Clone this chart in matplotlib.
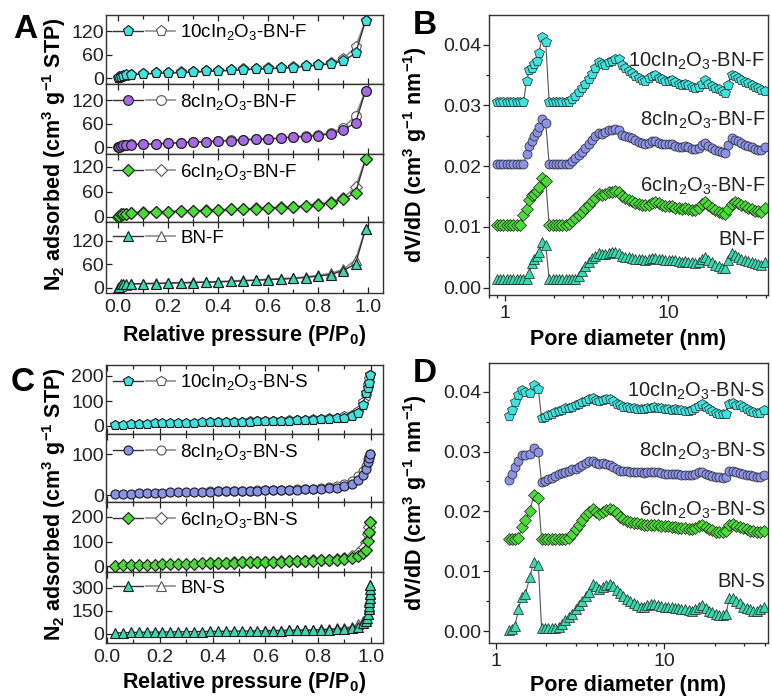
import matplotlib
matplotlib.use("Agg")
import matplotlib.pyplot as plt
from matplotlib.lines import Line2D
from matplotlib.legend_handler import HandlerTuple
from matplotlib.ticker import MultipleLocator, FixedLocator, NullFormatter, LogLocator, FormatStrFormatter

plt.rcParams['font.family'] = ['Liberation Sans', 'DejaVu Sans']
plt.rcParams['mathtext.fontset'] = 'custom'
plt.rcParams['mathtext.rm'] = 'Liberation Sans'
plt.rcParams['mathtext.it'] = 'Liberation Sans:italic'
plt.rcParams['mathtext.bf'] = 'Liberation Sans:bold'
plt.rcParams['mathtext.default'] = 'rm'

# ---------------- DATA: N2 isotherms, F series (panel A) ----------------
p_F_ads = [0.001, 0.005, 0.01, 0.02, 0.03, 0.05, 0.10, 0.15, 0.20, 0.25, 0.30, 0.35, 0.40,
           0.45, 0.50, 0.55, 0.60, 0.65, 0.70, 0.75, 0.80, 0.85, 0.90, 0.95, 0.99]
p_F_des = [0.99, 0.95, 0.90, 0.85, 0.80, 0.75, 0.70, 0.65, 0.60, 0.55, 0.50, 0.45, 0.40,
           0.35, 0.30, 0.25, 0.20, 0.15, 0.10, 0.05, 0.03, 0.01, 0.005]
iso_10c_F_ads = [0.5, 2, 4, 6, 7, 8.5, 10, 12, 13, 14, 15, 17, 18.5, 19.5, 21, 23, 24, 25, 27, 30, 33, 36, 44, 63, 146]
iso_10c_F_des = [146, 79, 49, 38, 34, 31, 28, 26, 25, 23.5, 22, 20.5, 19, 17.5, 16, 14.5, 13.5, 12.5, 11, 9, 6, 3, 1]
iso_8c_F_ads = [0.5, 2, 4.5, 5.5, 6.5, 7, 7.5, 8.5, 10, 11.5, 13, 14, 15.5, 17, 19, 20, 21, 23, 26, 27, 30, 34, 43, 63, 143]
iso_8c_F_des = [143, 80, 49, 37, 32, 29, 27, 24, 22, 21, 19.5, 18, 16, 14.5, 13.5, 11.5, 10.5, 9, 8, 7.5, 5, 3, 1]
iso_6c_F_ads = [0.5, 1.5, 6, 7, 8, 10, 10.5, 12, 12, 14, 14.6, 15.4, 16, 18, 19, 19.5, 21, 22, 23.5, 26, 29, 34, 42, 58, 138]
iso_6c_F_des = [138, 71, 46, 36, 31, 27, 24.5, 23, 22, 20.5, 19.5, 18.5, 17, 16, 15, 14.5, 12.5, 12.5, 11, 10.5, 7, 4, 1]
iso_BN_F_ads = [0.5, 2.5, 9, 9.5, 9.5, 10, 11, 11, 12, 13, 13.7, 14.5, 15.4, 16.5, 18, 19.5, 21, 22.5, 24, 26.5, 30, 34, 44, 61, 150]
iso_BN_F_des = [150, 71, 47, 37, 32, 28, 25, 23.5, 22, 20, 19, 17.5, 16, 15, 14, 13.5, 12.5, 11.5, 11, 10, 7, 4, 1]

# ---------------- DATA: N2 isotherms, S series (panel C) ----------------
p_S_ads = [0.03, 0.06, 0.09, 0.12, 0.15, 0.18, 0.21, 0.24, 0.27, 0.30, 0.33, 0.36, 0.39, 0.42,
           0.45, 0.48, 0.51, 0.54, 0.57, 0.60, 0.63, 0.66, 0.69, 0.72, 0.75, 0.78, 0.81, 0.84,
           0.87, 0.90, 0.93, 0.95, 0.97, 0.98, 0.99, 0.993, 0.996]
p_S_des = [0.996, 0.993, 0.99, 0.98, 0.97, 0.95, 0.93, 0.90, 0.87, 0.84, 0.81, 0.78, 0.75,
           0.72, 0.69, 0.66, 0.63, 0.60, 0.57, 0.54, 0.51, 0.48, 0.45, 0.42, 0.39]
iso_10c_S_ads = [4, 6, 7.5, 8.5, 9.5, 10.3, 11, 11.7, 12.4, 13, 13.6, 14.2, 14.8, 15.4, 16, 16.6, 17.2,
                 17.8, 18.5, 19.2, 20, 20.8, 21.7, 22.7, 23.8, 25, 26.5, 28.5, 31, 34, 39, 52, 84, 131,
                 152, 172, 204]
iso_10c_S_des = [204, 190, 165, 120, 95, 62, 46, 39, 34, 31, 28.5, 26.5, 25, 23.8, 22.8, 21.8, 20.8,
                 20, 19.2, 18.5, 17.8, 17.2, 16.5, 15.8, 15]
iso_8c_S_ads = [2.5, 3, 3.5, 4, 4.5, 5, 5.7, 6.2, 6.8, 7.3, 7.7, 8, 8.4, 8.8, 9.3, 9.8, 10, 10.4, 10.8,
                11.2, 11.6, 12, 12.5, 13, 13.7, 14.3, 15, 16.3, 18, 21, 27, 36, 50, 64, 80, 90, 100]
iso_8c_S_des = [100, 95, 88, 72, 58, 46, 35, 26, 21, 18.5, 16.5, 15.2, 14.3, 13.6, 13, 12.5, 12, 11.6,
                11.2, 10.8, 10.4, 10, 9.6, 9.2, 8.8]
iso_6c_S_ads = [1.4, 2.5, 3.3, 4.2, 5, 5.8, 7, 7.8, 8.6, 9.3, 10, 10.8, 11.6, 12.2, 13, 14, 15, 15.7,
                16.4, 17, 17.8, 18.5, 19.2, 20, 21, 22, 23, 23.5, 24.5, 27, 33, 40, 52, 64, 103, 139, 180]
iso_6c_S_des = [180, 160, 130, 100, 75, 55, 42, 33, 28, 26, 24.5, 23, 22, 21, 20, 19.3, 18.6, 18, 17.3,
                16.6, 16, 15.3, 14.6, 13.8, 13]
p_BN_S_ads = [0.03, 0.06, 0.09, 0.12, 0.15, 0.18, 0.21, 0.24, 0.27, 0.30, 0.33, 0.36, 0.39, 0.42,
              0.45, 0.48, 0.51, 0.54, 0.57, 0.60, 0.63, 0.66, 0.69, 0.72, 0.75, 0.78, 0.81, 0.84,
              0.87, 0.90, 0.93, 0.95, 0.97, 0.98, 0.985, 0.99, 0.992, 0.993, 0.994, 0.995, 0.996,
              0.997, 0.998]
iso_BN_S_ads = [6, 8, 9.5, 10.5, 11.3, 12, 12.7, 13.3, 14, 14.6, 15.2, 15.8, 16.3, 16.8, 17.4, 18, 18.6,
                19.2, 19.8, 20.5, 21.2, 22, 22.8, 23.6, 24.5, 25.6, 27, 29, 31.5, 35, 40, 48, 72, 85,
                105, 130, 160, 185, 210, 235, 260, 290, 318]
p_BN_S_des = [0.998, 0.996, 0.994, 0.992, 0.99, 0.98, 0.97, 0.95, 0.93, 0.90, 0.87, 0.84, 0.81, 0.78,
              0.75, 0.72, 0.69, 0.66, 0.63, 0.60]
iso_BN_S_des = [318, 270, 220, 170, 130, 95, 82, 62, 48, 41, 36, 32, 29.5, 27.5, 26, 24.5, 23.5, 22.5,
                21.8, 21]

# ---------------- DATA: pore size distributions ----------------
pore_micro_F = [0.90, 0.94, 0.98, 1.03, 1.08, 1.13, 1.18, 1.24, 1.30, 1.36, 1.41, 1.47, 1.52, 1.57,
                1.62, 1.69, 1.78]
pore_micro_S = [1.19, 1.24, 1.30, 1.36, 1.43, 1.50, 1.59, 1.68, 1.79]
pore_meso = [1.87, 1.96, 2.05, 2.15, 2.25, 2.36, 2.47, 2.59, 2.71, 2.84, 2.98,
             3.12, 3.27, 3.43, 3.59, 3.76, 3.94, 4.13, 4.33, 4.54, 4.76, 4.99,
             5.23, 5.48, 5.74, 6.02, 6.31, 6.61, 6.93, 7.26, 7.61, 7.98, 8.36,
             8.76, 9.18, 9.62, 10.1, 10.6, 11.1, 11.6, 12.2, 12.7, 13.3, 14.0,
             14.7, 15.4, 16.1, 16.9, 17.7, 18.5, 19.4, 20.4, 21.3, 22.4, 23.4,
             24.5, 25.7, 26.9, 28.2, 29.6, 31.0, 32.5, 34.1, 35.7, 37.4, 39.2]

psd_10c_F_micro = [0.0305, 0.0305, 0.0305, 0.0305, 0.0305, 0.0305, 0.0305, 0.0305, 0.0305,
                   0.0340, 0.0358, 0.0362, 0.0368, 0.0374, 0.0386, 0.0412, 0.0405]
psd_8c_F_micro = [0.0203, 0.0203, 0.0203, 0.0203, 0.0203, 0.0203, 0.0203, 0.0203, 0.0203,
                  0.0220, 0.0233, 0.0241, 0.0250, 0.0256, 0.0265, 0.0277, 0.0272]
psd_6c_F_micro = [0.0103, 0.0103, 0.0103, 0.0103, 0.0103, 0.0103, 0.0103, 0.0103,
                  0.0120, 0.0130, 0.0144, 0.0152, 0.0155, 0.0160, 0.0166, 0.0180, 0.0175]
psd_BN_F_micro = [0.0014, 0.0014, 0.0014, 0.0014, 0.0014, 0.0014, 0.0014, 0.0014, 0.0014, 0.0014,
                  0.0024, 0.0040, 0.0048, 0.0053, 0.0058, 0.0076, 0.0071]

psd_10c_F_meso = [0.0305, 0.0305, 0.0305, 0.0305, 0.0305, 0.0305, 0.0305, 0.0310, 0.0316, 0.0322, 0.0329,
                  0.0336, 0.0344, 0.0352, 0.0362, 0.0372, 0.0368, 0.0367, 0.0372, 0.0374, 0.0376, 0.0377,
                  0.0366, 0.0362, 0.0357, 0.0353, 0.0349, 0.0345, 0.0342, 0.0341, 0.0345, 0.0349, 0.0350,
                  0.0346, 0.0343, 0.0341, 0.0340, 0.0342, 0.0338, 0.0335, 0.0333, 0.0336, 0.0334, 0.0331,
                  0.0329, 0.0330, 0.0336, 0.0342, 0.0336, 0.0332, 0.0329, 0.0327, 0.0324, 0.0321, 0.0334,
                  0.0350, 0.0348, 0.0345, 0.0342, 0.0339, 0.0337, 0.0333, 0.0330, 0.0328, 0.0326, 0.0324]
psd_8c_F_meso = [0.0203, 0.0203, 0.0203, 0.0203, 0.0203, 0.0203, 0.0203, 0.0208, 0.0213, 0.0218, 0.0224,
                 0.0230, 0.0237, 0.0243, 0.0249, 0.0255, 0.0253, 0.0257, 0.0259, 0.0260, 0.0261, 0.0259,
                 0.0252, 0.0250, 0.0248, 0.0246, 0.0243, 0.0240, 0.0238, 0.0237, 0.0239, 0.0242, 0.0242,
                 0.0239, 0.0237, 0.0236, 0.0236, 0.0237, 0.0234, 0.0232, 0.0231, 0.0233, 0.0231, 0.0229,
                 0.0228, 0.0230, 0.0235, 0.0239, 0.0234, 0.0230, 0.0227, 0.0225, 0.0223, 0.0221, 0.0235,
                 0.0246, 0.0244, 0.0241, 0.0238, 0.0235, 0.0233, 0.0231, 0.0229, 0.0227, 0.0226, 0.0231]
psd_6c_F_meso = [0.0103, 0.0103, 0.0103, 0.0103, 0.0103, 0.0103, 0.0105, 0.0110, 0.0114, 0.0119, 0.0125,
                 0.0131, 0.0136, 0.0142, 0.0148, 0.0154, 0.0152, 0.0155, 0.0157, 0.0158, 0.0160, 0.0157,
                 0.0151, 0.0148, 0.0145, 0.0142, 0.0140, 0.0138, 0.0136, 0.0136, 0.0137, 0.0139, 0.0141,
                 0.0140, 0.0137, 0.0135, 0.0134, 0.0134, 0.0132, 0.0131, 0.0130, 0.0132, 0.0130, 0.0128,
                 0.0128, 0.0132, 0.0138, 0.0141, 0.0136, 0.0131, 0.0128, 0.0125, 0.0123, 0.0122, 0.0130,
                 0.0138, 0.0141, 0.0139, 0.0136, 0.0134, 0.0131, 0.0129, 0.0127, 0.0126, 0.0125, 0.0131]
psd_BN_F_meso = [0.0014, 0.0014, 0.0014, 0.0014, 0.0014, 0.0014, 0.0014, 0.0014, 0.0014, 0.0020, 0.0027,
                 0.0036, 0.0043, 0.0049, 0.0053, 0.0057, 0.0055, 0.0056, 0.0057, 0.0058, 0.0059, 0.0057,
                 0.0053, 0.0051, 0.0050, 0.0049, 0.0048, 0.0048, 0.0047, 0.0046, 0.0047, 0.0049, 0.0049,
                 0.0048, 0.0047, 0.0046, 0.0046, 0.0046, 0.0045, 0.0044, 0.0043, 0.0044, 0.0043, 0.0042,
                 0.0041, 0.0043, 0.0048, 0.0051, 0.0046, 0.0042, 0.0038, 0.0035, 0.0033, 0.0032, 0.0045,
                 0.0057, 0.0054, 0.0051, 0.0048, 0.0046, 0.0044, 0.0042, 0.0040, 0.0039, 0.0038, 0.0042]

psd_10c_S_micro = [0.0360, 0.0370, 0.0382, 0.0395, 0.0403, 0.0399, 0.0398, 0.0411, 0.0404]
psd_8c_S_micro = [0.0253, 0.0262, 0.0275, 0.0285, 0.0295, 0.0294, 0.0296, 0.0306, 0.0299]
psd_6c_S_micro = [0.0153, 0.0153, 0.0153, 0.0155, 0.0174, 0.0186, 0.0200, 0.0227, 0.0222]
psd_BN_S_micro = [0.0002, 0.0004, 0.0008, 0.0037, 0.0057, 0.0062, 0.0090, 0.0116, 0.0110]

psd_10c_S_meso = [0.0356, 0.0358, 0.0361, 0.0363, 0.0366, 0.0368, 0.0369, 0.0372, 0.0373, 0.0375, 0.0378,
                  0.0380, 0.0382, 0.0385, 0.0387, 0.0390, 0.0386, 0.0385, 0.0386, 0.0387, 0.0388, 0.0384,
                  0.0379, 0.0377, 0.0375, 0.0374, 0.0373, 0.0372, 0.0371, 0.0371, 0.0371, 0.0372, 0.0373,
                  0.0374, 0.0373, 0.0372, 0.0371, 0.0371, 0.0370, 0.0371, 0.0370, 0.0369, 0.0368, 0.0368,
                  0.0369, 0.0372, 0.0376, 0.0379, 0.0375, 0.0371, 0.0367, 0.0364, 0.0362, 0.0362, 0.0363,
                  0.0380, 0.0381, 0.0377, 0.0378, 0.0375, 0.0371, 0.0368, 0.0366, 0.0365, 0.0365, 0.0370]
psd_8c_S_meso = [0.0249, 0.0251, 0.0254, 0.0256, 0.0259, 0.0262, 0.0264, 0.0266, 0.0268, 0.0270, 0.0271,
                 0.0274, 0.0277, 0.0281, 0.0285, 0.0284, 0.0281, 0.0280, 0.0281, 0.0279, 0.0278, 0.0274,
                 0.0270, 0.0268, 0.0267, 0.0267, 0.0266, 0.0266, 0.0265, 0.0265, 0.0264, 0.0265, 0.0266,
                 0.0266, 0.0265, 0.0264, 0.0263, 0.0263, 0.0262, 0.0263, 0.0262, 0.0261, 0.0261, 0.0260,
                 0.0261, 0.0263, 0.0265, 0.0266, 0.0263, 0.0261, 0.0259, 0.0258, 0.0257, 0.0256, 0.0258,
                 0.0267, 0.0268, 0.0265, 0.0264, 0.0263, 0.0261, 0.0260, 0.0259, 0.0258, 0.0258, 0.0260]
psd_6c_S_meso = [0.0153, 0.0153, 0.0153, 0.0153, 0.0153, 0.0153, 0.0153, 0.0153, 0.0156, 0.0162, 0.0170,
                 0.0178, 0.0186, 0.0194, 0.0199, 0.0204, 0.0199, 0.0196, 0.0199, 0.0202, 0.0204, 0.0203,
                 0.0197, 0.0191, 0.0187, 0.0184, 0.0182, 0.0181, 0.0180, 0.0179, 0.0178, 0.0178, 0.0177,
                 0.0177, 0.0177, 0.0176, 0.0175, 0.0175, 0.0174, 0.0174, 0.0173, 0.0172, 0.0172, 0.0171,
                 0.0171, 0.0173, 0.0176, 0.0177, 0.0174, 0.0171, 0.0169, 0.0166, 0.0165, 0.0165, 0.0167,
                 0.0178, 0.0179, 0.0175, 0.0174, 0.0172, 0.0170, 0.0168, 0.0167, 0.0166, 0.0166, 0.0168]
psd_BN_S_meso = [0.0005, 0.0005, 0.0005, 0.0005, 0.0005, 0.0007, 0.0011, 0.0019, 0.0024, 0.0029, 0.0036,
                 0.0043, 0.0050, 0.0058, 0.0066, 0.0079, 0.0075, 0.0071, 0.0074, 0.0077, 0.0078, 0.0076,
                 0.0069, 0.0063, 0.0058, 0.0054, 0.0050, 0.0047, 0.0043, 0.0040, 0.0040, 0.0043, 0.0045,
                 0.0046, 0.0044, 0.0042, 0.0041, 0.0040, 0.0040, 0.0039, 0.0038, 0.0037, 0.0036, 0.0035,
                 0.0034, 0.0036, 0.0040, 0.0043, 0.0038, 0.0034, 0.0031, 0.0029, 0.0027, 0.0026, 0.0028,
                 0.0056, 0.0055, 0.0051, 0.0047, 0.0041, 0.0038, 0.0036, 0.0034, 0.0034, 0.0036, 0.0040]

labels_F = ["10cIn$_2$O$_3$-BN-F", "8cIn$_2$O$_3$-BN-F", "6cIn$_2$O$_3$-BN-F", "BN-F"]
labels_S = ["10cIn$_2$O$_3$-BN-S", "8cIn$_2$O$_3$-BN-S", "6cIn$_2$O$_3$-BN-S", "BN-S"]

# ---------------- STYLE ----------------
W, H = 772, 697
CYAN = '#3fe2dc'
PURPLE = '#a46ae4'
LAV = '#8b93e6'
GREEN = '#4cd93a'
AQUA = '#3ad9ad'
FS_TICK = 14
FS_LEG = 13.5
FS_TXT = 14.5
FS_LAB = 15.5

fig = plt.figure(figsize=(W / 100, H / 100), dpi=100)


def rect(l, t, r, b):
    return [l / W, 1 - b / H, (r - l) / W, (b - t) / H]


def style_iso(ax, xlim, ylim, yticks, bottom):
    ax.set_xlim(*xlim)
    ax.set_ylim(*ylim)
    ax.set_yticks(yticks)
    ax.xaxis.set_major_locator(MultipleLocator(0.2))
    ax.xaxis.set_minor_locator(MultipleLocator(0.1))
    ax.xaxis.set_major_formatter(FormatStrFormatter('%.1f'))
    ax.tick_params(axis='both', which='both', direction='in', top=True, right=False,
                   labelsize=FS_TICK, colors='#222222', width=0.9)
    ax.tick_params(which='major', length=4)
    ax.tick_params(which='minor', length=3)
    ax.tick_params(axis='y', pad=1.5)
    ax.tick_params(axis='x', pad=4)
    if not bottom:
        ax.tick_params(axis='x', which='both', labelbottom=False)
    for s in ax.spines.values():
        s.set_linewidth(1.0)
        s.set_color('#333333')


def iso_panel(ax, p_a, v_a, p_d, v_d, color, marker, ms, label):
    ax.plot(p_d, v_d, color='#8c8c8c', lw=1.2, marker=marker, ms=ms, mfc='white',
            mec='#555555', mew=0.8, zorder=2)
    ax.plot(p_a, v_a, color='#333333', lw=1.0, marker=marker, ms=ms, mfc=color,
            mec='#1a1a1a', mew=0.8, zorder=3)
    h1 = Line2D([], [], color='#333333', lw=1.0, marker=marker, ms=ms, mfc=color, mec='#1a1a1a', mew=0.8)
    h2 = Line2D([], [], color='#8c8c8c', lw=1.2, marker=marker, ms=ms, mfc='white', mec='#555555', mew=0.8)
    ax.legend([(h1, h2)], [label], handler_map={tuple: HandlerTuple(ndivide=None, pad=0.15)},
              handlelength=3.3, handletextpad=0.25, loc='upper left', frameon=False,
              borderaxespad=0.15, borderpad=0.25, fontsize=FS_LEG)


# ---------------- Panel A ----------------
A_rows = [(15, 84), (84, 154), (154, 222), (222, 293)]
A_lims = [(-15, 161), (-17, 161), (-12, 151), (-13, 168)]
A_series = [
    (iso_10c_F_ads, iso_10c_F_des, CYAN, 'p', 8),
    (iso_8c_F_ads, iso_8c_F_des, PURPLE, 'o', 7),
    (iso_6c_F_ads, iso_6c_F_des, GREEN, 'D', 6.5),
    (iso_BN_F_ads, iso_BN_F_des, AQUA, '^', 7.5),
]
for i, ((t, b), yl, (va, vd, c, m, ms), lab) in enumerate(zip(A_rows, A_lims, A_series, labels_F)):
    ax = fig.add_axes(rect(106, t, 383, b))
    iso_panel(ax, p_F_ads, va, p_F_des, vd, c, m, ms, lab)
    style_iso(ax, (-0.049, 1.06), yl, [0, 60, 120], i == 3)
    if i == 3:
        ax.set_xlabel('Relative pressure (P/P$_\\mathbf{0}$)', fontsize=FS_LAB, fontweight='bold', labelpad=5)

# ---------------- Panel C ----------------
C_rows = [(365, 434), (434, 502), (502, 572), (572, 643)]
C_lims = [(-32, 244), (-17, 149), (-24, 261), (-59, 404)]
C_ticks = [[0, 100, 200], [0, 100], [0, 100, 200], [0, 150, 300]]
C_series = [
    (p_S_ads, iso_10c_S_ads, p_S_des, iso_10c_S_des, CYAN, 'p', 7),
    (p_S_ads, iso_8c_S_ads, p_S_des, iso_8c_S_des, LAV, 'o', 6.5),
    (p_S_ads, iso_6c_S_ads, p_S_des, iso_6c_S_des, GREEN, 'D', 6),
    (p_BN_S_ads, iso_BN_S_ads, p_BN_S_des, iso_BN_S_des, AQUA, '^', 7),
]
for i, ((t, b), yl, yt, (pa, va, pd_, vd, c, m, ms), lab) in enumerate(
        zip(C_rows, C_lims, C_ticks, C_series, labels_S)):
    ax = fig.add_axes(rect(106, t, 383, b))
    iso_panel(ax, pa, va, pd_, vd, c, m, ms, lab)
    style_iso(ax, (-0.004, 1.046), yl, yt, i == 3)
    if i == 3:
        ax.set_xlabel('Relative pressure (P/P$_\\mathbf{0}$)', fontsize=FS_LAB, fontweight='bold', labelpad=3)

ylab_iso = 'N$_\\mathbf{2}$ adsorbed (cm$^\\mathbf{3}$ g$^\\mathbf{-1}$ STP)'
fig.text(54 / W, 1 - 154 / H, ylab_iso, rotation=90, ha='center', va='center',
         fontsize=FS_LAB, fontweight='bold')
fig.text(54 / W, 1 - 504 / H, ylab_iso, rotation=90, ha='center', va='center',
         fontsize=FS_LAB, fontweight='bold')


# ---------------- Panels B and D ----------------
def psd_panel(ax, micro, series, labels, label_y, xlim, ylim, lpad):
    for (vm, vmeso, c, m, ms), lab, ly in zip(series, labels, label_y):
        x = micro + pore_meso
        y = vm + vmeso
        assert len(x) == len(y)
        ax.plot(x, y, color='#555555', lw=0.8, marker=m, ms=ms, mfc=c, mec='#222222', mew=0.5)
        ax.text(0.99, ly, lab, transform=ax.get_yaxis_transform(), ha='right', va='center',
                fontsize=FS_TXT, color='#222222')
    ax.set_xscale('log')
    ax.set_xlim(*xlim)
    ax.set_ylim(*ylim)
    ax.xaxis.set_major_locator(FixedLocator([1, 10]))
    ax.set_xticklabels(['1', '10'])
    ax.xaxis.set_minor_locator(LogLocator(base=10, subs=(2, 3, 4, 5, 6, 7, 8, 9), numticks=20))
    ax.xaxis.set_minor_formatter(NullFormatter())
    ax.yaxis.set_major_locator(MultipleLocator(0.01))
    ax.yaxis.set_minor_locator(MultipleLocator(0.005))
    ax.yaxis.set_major_formatter(FormatStrFormatter('%.2f'))
    ax.tick_params(axis='both', which='both', direction='out', labelsize=FS_TICK,
                   colors='#222222', width=0.9)
    ax.tick_params(which='major', length=4)
    ax.tick_params(which='minor', length=2.5)
    ax.tick_params(axis='y', pad=1.5)
    for s in ax.spines.values():
        s.set_linewidth(1.0)
        s.set_color('#333333')
    ax.set_xlabel('Pore diameter (nm)', fontsize=FS_LAB, fontweight='bold', labelpad=lpad)
    ax.set_ylabel('dV/dD (cm$^\\mathbf{3}$ g$^\\mathbf{-1}$ nm$^\\mathbf{-1}$)', fontsize=FS_LAB,
                  fontweight='bold')
    ax.yaxis.set_label_coords(-0.215, 0.5)


axB = fig.add_axes(rect(489, 15, 768, 295))
B_series = [
    (psd_10c_F_micro, psd_10c_F_meso, CYAN, 'p', 7),
    (psd_8c_F_micro, psd_8c_F_meso, LAV, 'o', 6.5),
    (psd_6c_F_micro, psd_6c_F_meso, GREEN, 'D', 6),
    (psd_BN_F_micro, psd_BN_F_meso, AQUA, '^', 7),
]
psd_panel(axB, pore_micro_F, B_series, labels_F, [0.0372, 0.0275, 0.0167, 0.0080],
          (0.80, 41.0), (-0.0012, 0.0449), 5)

axD = fig.add_axes(rect(489, 363, 768, 643))
D_series = [
    (psd_10c_S_micro, psd_10c_S_meso, CYAN, 'p', 7),
    (psd_8c_S_micro, psd_8c_S_meso, LAV, 'o', 6.5),
    (psd_6c_S_micro, psd_6c_S_meso, GREEN, 'D', 6),
    (psd_BN_S_micro, psd_BN_S_meso, AQUA, '^', 7),
]
psd_panel(axD, pore_micro_S, D_series, labels_S, [0.0400, 0.0301, 0.0202, 0.0082],
          (0.91, 41.6), (-0.0020, 0.0448), 3)

# ---------------- Panel letters ----------------
for txt, x, y in [('A', 25, 29), ('B', 425, 25), ('C', 23, 383), ('D', 425, 374)]:
    fig.text(x / W, 1 - y / H, txt, fontsize=24, fontweight='bold', ha='center', va='center')

fig.savefig('out.png', dpi=100)
